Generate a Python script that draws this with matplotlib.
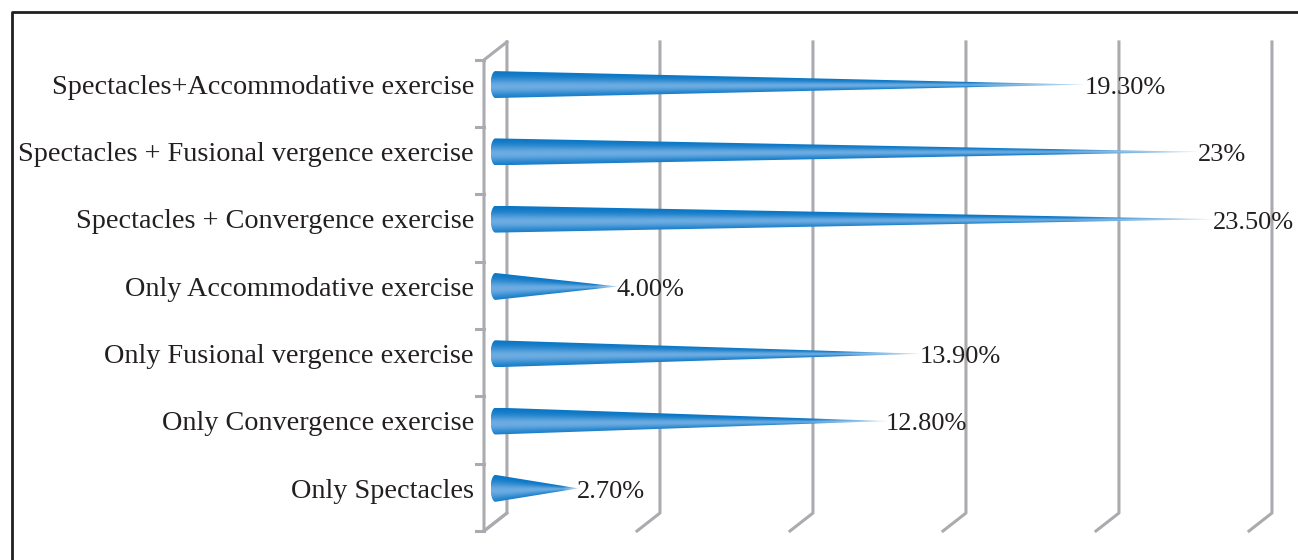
import numpy as np
import matplotlib.pyplot as plt
from matplotlib.patches import Polygon
from matplotlib.lines import Line2D

# Datos del gráfico (de abajo hacia arriba)
categorias = ['Only Spectacles', 'Only Convergence exercise', 'Only Fusional vergence exercise',
              'Only Accommodative exercise', 'Spectacles + Convergence exercise',
              'Spectacles + Fusional vergence exercise', 'Spectacles+Accommodative exercise']
valores = [2.7, 12.8, 13.9, 4.0, 23.5, 23.0, 19.3]
etiquetas = ['2.70%', '12.80%', '13.90%', '4.00%', '23.50%', '23%', '19.30%']
lineas_grid = [0, 5, 10, 15, 20, 25]

plt.rcParams['font.family'] = ['Liberation Serif', 'DejaVu Serif']

fig = plt.figure(figsize=(12.98, 5.6), dpi=100)
ax = fig.add_axes([0, 0, 1, 1])
ax.axis('off')

# profundidad del efecto 3D (en unidades de datos)
dx, dy = 0.75, 0.267
gris = '#ABABAF'
n = len(categorias)
lo, hi = -0.5, n - 0.5

# lineas de la pared trasera y del piso
for g in lineas_grid:
    ax.plot([g, g + dx, g + dx], [lo, lo + dy, hi + dy], color=gris, lw=2.2, zorder=1)

# pared izquierda
ax.plot([dx, 0, 0, dx], [lo + dy, lo, hi, hi + dy], color=gris, lw=2.2, zorder=1)
for b in np.arange(lo, hi + 0.01, 1.0):
    ax.plot([-0.27, 0], [b, b], color=gris, lw=2.2, zorder=1)

# colores del cono
oscuro = np.array([6, 116, 196]) / 255
claro = np.array([108, 172, 226]) / 255
palido = np.array([205, 225, 243]) / 255

h = 0.2
tapa = 0.16
x0 = dx / 2
for i, (v, et) in enumerate(zip(valores, etiquetas)):
    yc = i + dy / 2
    punta = x0 + v
    th = np.linspace(-np.pi / 2, -3 * np.pi / 2, 40)
    pts = [(x0, yc + h), (punta, yc), (x0, yc - h)]
    pts += list(zip(x0 + tapa * np.cos(th), yc + h * np.sin(th)))
    cono = Polygon(pts, closed=True, facecolor='none', edgecolor='none', zorder=3)
    ax.add_patch(cono)

    # degradado
    xs = np.linspace(x0 - tapa, punta, 600)
    ys = np.linspace(yc - h, yc + h, 60)
    X, Y = np.meshgrid(xs, ys)
    xl = np.clip((X - x0) / (punta - x0), 0, 1)
    hh = h * (1 - xl) + 1e-4
    vv = np.clip((Y - yc) / hh, -1, 1)
    t = np.exp(-((vv + 0.15) / 0.65) ** 2)
    img = oscuro + (claro - oscuro) * t[..., None]
    f = np.clip((xl - 0.8) / 0.2, 0, 1)[..., None]
    img = img + (palido - img) * f
    im = ax.imshow(img, extent=[x0 - tapa, punta, yc - h, yc + h], origin='lower',
                   aspect='auto', interpolation='bilinear', zorder=3)
    im.set_clip_path(cono)

    ax.text(punta - 0.05, yc - 0.05, et, ha='left', va='center', fontsize=19,
            color='#231F20', zorder=4)
    ax.text(-0.33, yc - 0.04, categorias[i], ha='right', va='center', fontsize=20.3,
            color='#231F20')

ax.set_xlim(-15.817, 26.601)
ax.set_ylim(-0.931, 7.390)

# marco exterior
fig.add_artist(Line2D([12 / 1298, 12 / 1298, 1.01], [-0.01, 1 - 12 / 560, 1 - 12 / 560],
                      transform=fig.transFigure, color='#231F20', lw=2))

fig.savefig('out.png', dpi=100)
